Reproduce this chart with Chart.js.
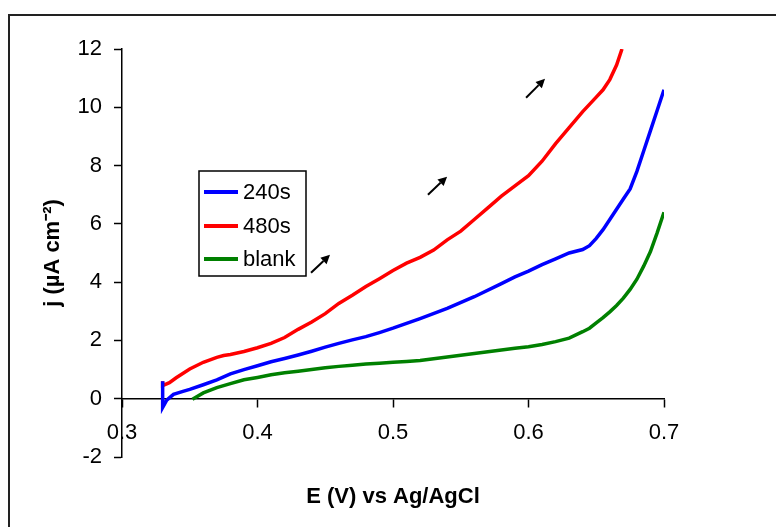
<!DOCTYPE html>
<html>
<head>
<meta charset="utf-8">
<script src="https://cdn.jsdelivr.net/npm/chart.js"></script>
<style>
  html, body { margin: 0; padding: 0; background: #fff; overflow: hidden; }
  #wrap { position: relative; width: 776px; height: 527px; }
  #frame { position: absolute; left: 8px; top: 14px; width: 900px; height: 700px;
           border-left: 2px solid #222; border-top: 2px solid #222; pointer-events: none; }
  canvas { position: absolute; left: 0; top: 0; }
</style>
</head>
<body>
<div id="wrap">
  <canvas id="cv" width="776" height="527"></canvas>
  <div id="frame"></div>
</div>
<script>
// Courbes j = f(E)
const labels = ['240s', '480s', 'blank'];
const colors = ['#0000ff', '#ff0000', '#008000'];

const e240 = [0.330, 0.330, 0.333, 0.338, 0.345, 0.350, 0.360, 0.370, 0.380, 0.390, 0.400, 0.410, 0.420, 0.430, 0.440, 0.450, 0.460, 0.470, 0.480, 0.490, 0.500, 0.520, 0.540, 0.560, 0.580, 0.590, 0.600, 0.610, 0.620, 0.630, 0.640, 0.645, 0.650, 0.655, 0.660, 0.665, 0.670, 0.675, 0.680, 0.685, 0.690, 0.695, 0.700];
const j240 = [0.6, -0.3, -0.05, 0.15, 0.25, 0.32, 0.48, 0.65, 0.85, 1.0, 1.13, 1.27, 1.38, 1.5, 1.63, 1.77, 1.9, 2.02, 2.13, 2.27, 2.42, 2.75, 3.1, 3.5, 3.95, 4.18, 4.38, 4.6, 4.8, 5.0, 5.12, 5.25, 5.5, 5.8, 6.15, 6.5, 6.85, 7.2, 7.8, 8.5, 9.2, 9.9, 10.6];

const e480 = [0.330, 0.330, 0.335, 0.340, 0.350, 0.360, 0.370, 0.375, 0.380, 0.390, 0.400, 0.410, 0.420, 0.430, 0.440, 0.450, 0.460, 0.470, 0.480, 0.490, 0.500, 0.510, 0.520, 0.530, 0.540, 0.550, 0.560, 0.570, 0.580, 0.590, 0.600, 0.610, 0.620, 0.630, 0.640, 0.650, 0.655, 0.660, 0.665, 0.669];
const j480 = [0.6, 0.45, 0.55, 0.72, 1.02, 1.25, 1.42, 1.48, 1.52, 1.62, 1.75, 1.9, 2.1, 2.38, 2.63, 2.92, 3.27, 3.55, 3.85, 4.12, 4.4, 4.65, 4.85, 5.1, 5.45, 5.75, 6.15, 6.55, 6.95, 7.3, 7.65, 8.15, 8.75, 9.3, 9.85, 10.35, 10.6, 10.95, 11.45, 12.0];

const eBlank = [0.352, 0.360, 0.370, 0.380, 0.390, 0.400, 0.410, 0.420, 0.430, 0.440, 0.450, 0.460, 0.470, 0.480, 0.490, 0.500, 0.510, 0.520, 0.530, 0.540, 0.550, 0.560, 0.570, 0.580, 0.590, 0.600, 0.610, 0.620, 0.630, 0.640, 0.645, 0.650, 0.655, 0.660, 0.665, 0.670, 0.675, 0.680, 0.685, 0.690, 0.695, 0.700];
const jBlank = [-0.02, 0.2, 0.38, 0.52, 0.65, 0.73, 0.82, 0.89, 0.94, 1.0, 1.06, 1.11, 1.15, 1.19, 1.22, 1.25, 1.28, 1.31, 1.37, 1.43, 1.49, 1.55, 1.61, 1.67, 1.73, 1.78, 1.86, 1.96, 2.08, 2.3, 2.42, 2.6, 2.78, 2.98, 3.2, 3.45, 3.75, 4.1, 4.55, 5.05, 5.7, 6.4];

// flèches (queue -> pointe), en coordonnées des axes
const arrowTailE = [0.4395, 0.5258, 0.5982];
const arrowTailJ = [4.32, 7.0, 10.33];
const arrowHeadE = [0.4535, 0.5399, 0.6122];
const arrowHeadJ = [4.94, 7.62, 10.98];

const xTicks = [0.3, 0.4, 0.5, 0.6, 0.7];
const yTicks = [-2, 0, 2, 4, 6, 8, 10, 12];

const FONT = "'Liberation Sans', Arial, sans-serif";

function toPoints(xs, ys) {
    return xs.map((x, i) => ({ x: x, y: ys[i] }));
}

const series = [toPoints(e240, j240), toPoints(e480, j480), toPoints(eBlank, jBlank)];

// légende encadrée dans la zone du graphique
const legendBox = {
    id: 'legendBox',
    afterDatasetsDraw(chart) {
        const ctx = chart.ctx;
        ctx.save();
        ctx.strokeStyle = '#000';
        ctx.lineWidth = 1.5;
        ctx.strokeRect(199, 171, 107, 105);
        const rows = [192, 226, 259];
        chart.data.datasets.forEach((ds, i) => {
            ctx.strokeStyle = ds.borderColor;
            ctx.lineWidth = 4;
            ctx.beginPath();
            ctx.moveTo(204, rows[i]);
            ctx.lineTo(238, rows[i]);
            ctx.stroke();
            ctx.fillStyle = '#000';
            ctx.font = '22px ' + FONT;
            ctx.textBaseline = 'middle';
            ctx.textAlign = 'left';
            ctx.fillText(ds.label, 243, rows[i] + 1);
        });
        ctx.restore();
    }
};

const arrows = {
    id: 'arrows',
    afterDatasetsDraw(chart) {
        const ctx = chart.ctx;
        const xs = chart.scales.x, ys = chart.scales.y;
        ctx.save();
        ctx.strokeStyle = '#000';
        ctx.fillStyle = '#000';
        ctx.lineWidth = 2;
        for (let i = 0; i < arrowTailE.length; i++) {
            const x1 = xs.getPixelForValue(arrowTailE[i]);
            const y1 = ys.getPixelForValue(arrowTailJ[i]);
            const x2 = xs.getPixelForValue(arrowHeadE[i]);
            const y2 = ys.getPixelForValue(arrowHeadJ[i]);
            const a = Math.atan2(y2 - y1, x2 - x1);
            const hl = 9, hw = 4.5;
            const bx = x2 - hl * Math.cos(a), by = y2 - hl * Math.sin(a);
            ctx.beginPath();
            ctx.moveTo(x1, y1);
            ctx.lineTo(bx, by);
            ctx.stroke();
            ctx.beginPath();
            ctx.moveTo(x2, y2);
            ctx.lineTo(bx + hw * Math.sin(a), by - hw * Math.cos(a));
            ctx.lineTo(bx - hw * Math.sin(a), by + hw * Math.cos(a));
            ctx.closePath();
            ctx.fill();
        }
        ctx.restore();
    }
};

new Chart(document.getElementById('cv').getContext('2d'), {
    type: 'scatter',
    data: {
        datasets: series.map((pts, i) => ({
            label: labels[i],
            data: pts,
            showLine: true,
            borderColor: colors[i],
            backgroundColor: colors[i],
            borderWidth: 3.5,
            pointRadius: 0,
            tension: 0
        }))
    },
    options: {
        responsive: false,
        animation: false,
        layout: { padding: { left: 20, right: 112, top: 49, bottom: 70 } },
        plugins: { legend: { display: false }, tooltip: { enabled: false } },
        scales: {
            x: {
                type: 'linear',
                position: { y: 0 },
                min: 0.3,
                max: 0.7,
                afterFit(scale) { scale.height = 50; },
                afterBuildTicks(scale) { scale.ticks = xTicks.map(v => ({ value: v })); },
                grid: { drawOnChartArea: false, tickLength: 8, color: '#000', tickWidth: 1.5 },
                border: { display: true, color: '#000', width: 1.5 },
                ticks: {
                    color: '#000',
                    padding: 13,
                    font: { family: FONT, size: 22 },
                    callback: v => Number(v).toFixed(1)
                },
                title: {
                    display: true,
                    text: 'E (V) vs Ag/AgCl',
                    color: '#000',
                    font: { family: FONT, size: 22, weight: 'bold' },
                    padding: { top: 0, bottom: -61 }
                }
            },
            y: {
                type: 'linear',
                position: 'left',
                min: -2,
                max: 12,
                afterFit(scale) { scale.width = 102; },
                afterBuildTicks(scale) { scale.ticks = yTicks.map(v => ({ value: v })); },
                grid: { drawOnChartArea: false, tickLength: 8, color: '#000', tickWidth: 1.5 },
                border: { display: true, color: '#000', width: 1.5 },
                ticks: {
                    color: '#000',
                    padding: 12,
                    font: { family: FONT, size: 22 }
                },
                title: {
                    display: true,
                    text: 'j (µA cm⁻²)',
                    color: '#000',
                    font: { family: FONT, size: 22, weight: 'bold' },
                    padding: { top: 20, bottom: 10 }
                }
            }
        }
    },
    plugins: [legendBox, arrows]
});
</script>
</body>
</html>
